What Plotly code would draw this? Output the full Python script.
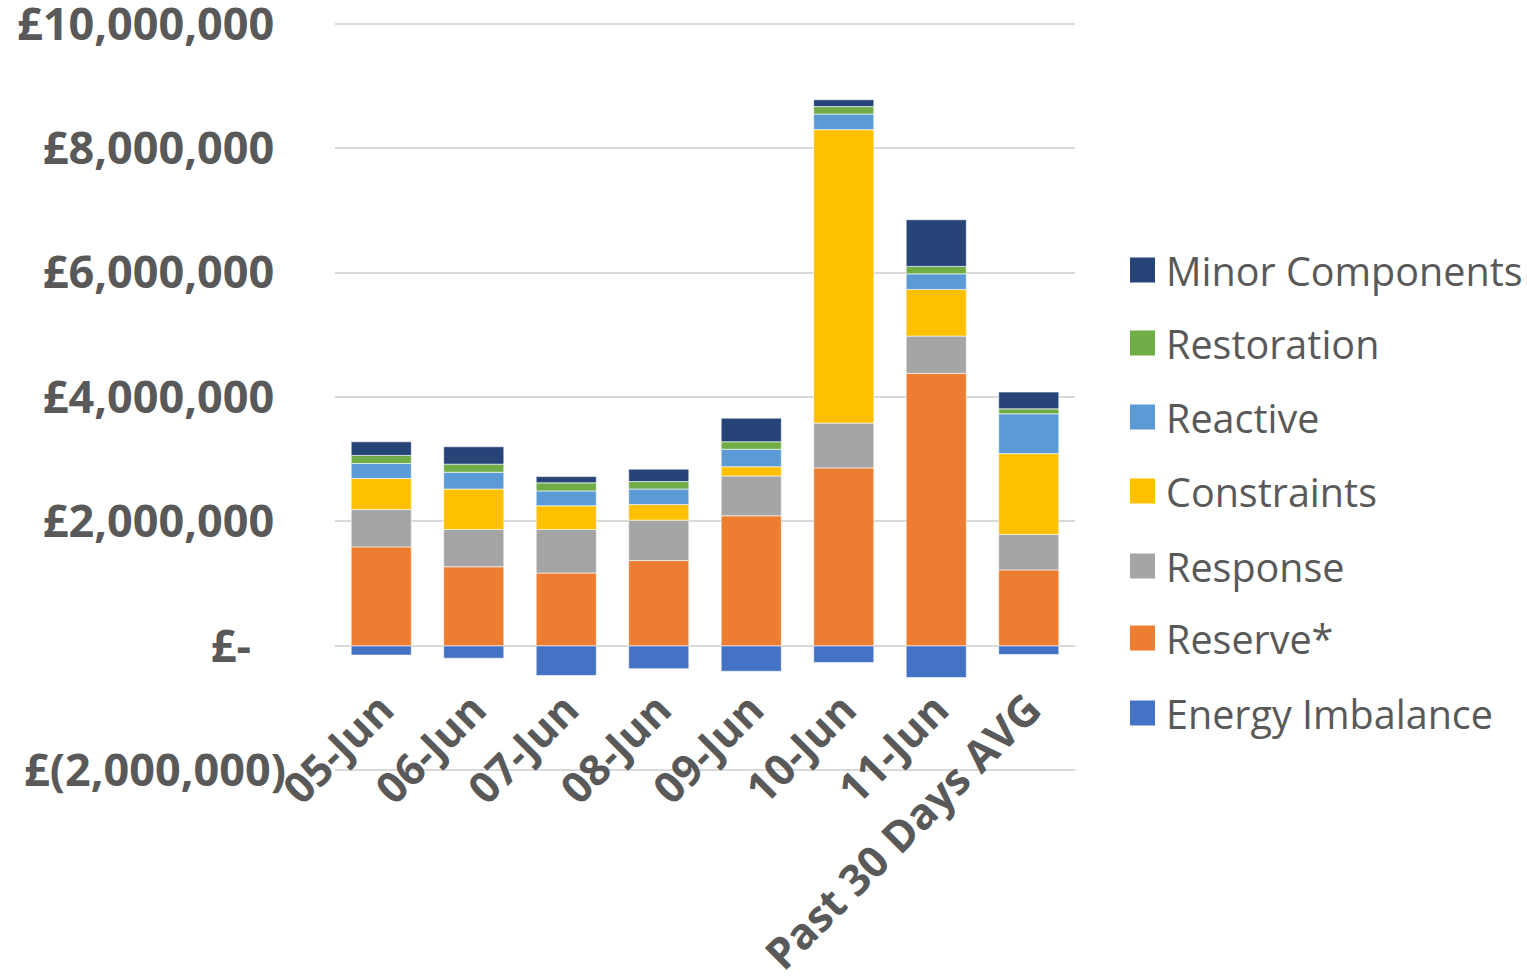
import plotly.graph_objects as go

categories = ["05-Jun", "06-Jun", "07-Jun", "08-Jun", "09-Jun", "10-Jun", "11-Jun", "Past 30 Days AVG"]

energy_imbalance = [-150000, -200000, -480000, -370000, -410000, -270000, -510000, -140000]
reserve = [1590000, 1270000, 1170000, 1370000, 2090000, 2860000, 4380000, 1220000]
response = [600000, 600000, 700000, 650000, 640000, 720000, 600000, 570000]
constraints = [500000, 650000, 380000, 250000, 150000, 4720000, 750000, 1300000]
reactive = [240000, 270000, 240000, 250000, 280000, 250000, 250000, 640000]
restoration = [130000, 130000, 130000, 120000, 120000, 120000, 120000, 80000]
minor_components = [220000, 280000, 100000, 200000, 380000, 110000, 750000, 270000]

tick_vals = [-2000000, 0, 2000000, 4000000, 6000000, 8000000, 10000000]
tick_text = ["£(2,000,000)", "£-\u00a0\u00a0\u00a0", "£2,000,000\u00a0", "£4,000,000\u00a0",
             "£6,000,000\u00a0", "£8,000,000\u00a0", "£10,000,000\u00a0"]

series = [
    ("Energy Imbalance", energy_imbalance, "#4472C4"),
    ("Reserve*", reserve, "#ED7D31"),
    ("Response", response, "#A5A5A5"),
    ("Constraints", constraints, "#FFC000"),
    ("Reactive", reactive, "#5B9BD5"),
    ("Restoration", restoration, "#70AD47"),
    ("Minor Components", minor_components, "#264478"),
]

FONT = "Open Sans"
GREY = "#595959"

fig = go.Figure()
for name, vals, color in series:
    fig.add_trace(go.Bar(
        x=categories, y=vals, name=name, showlegend=False,
        marker=dict(color=color, line=dict(color="rgba(255,255,255,0.6)", width=1)),
    ))

W, H = 1527, 980
L, R, T, B = 335, 452, 22, 208
pw, ph = W - L - R, H - T - B

def px_x(p):
    return (p - L) / pw

def px_y(p):
    return (H - B - p) / ph

legend_items = ["Minor Components", "Restoration", "Reactive", "Constraints", "Response", "Reserve*", "Energy Imbalance"]
color_map = {n: c for n, _, c in series}
legend_y = [270, 343, 417, 491, 566, 638, 713]
shapes = []
annotations = []
for name, yc in zip(legend_items, legend_y):
    shapes.append(dict(type="rect", xref="paper", yref="paper",
                       x0=px_x(1130), x1=px_x(1155), y0=px_y(yc + 12.5), y1=px_y(yc - 12.5),
                       fillcolor=color_map[name], line=dict(width=0)))
    annotations.append(dict(xref="paper", yref="paper", x=px_x(1164), y=px_y(yc + 1),
                            xanchor="left", yanchor="middle", text=name, showarrow=False,
                            font=dict(family=FONT, size=39.5, color=GREY)))

fig.update_layout(
    width=W, height=H,
    margin=dict(l=L, r=R, t=T, b=B, autoexpand=False),
    barmode="relative", bargap=0.35,
    plot_bgcolor="white", paper_bgcolor="white",
    shapes=shapes, annotations=annotations,
    xaxis=dict(anchor="free", position=0.13, showline=False, showgrid=False, automargin=False,
               tickangle=-45, ticks="", ticklabeloverflow="allow",
               tickfont=dict(family=FONT, size=43, color=GREY, weight="bold")),
    yaxis=dict(range=[-2030000, 10030000], tickvals=tick_vals, ticktext=tick_text,
               showgrid=True, gridcolor="#d9d9d9", gridwidth=2, zeroline=False, automargin=False,
               showline=False, ticks="outside", ticklen=39, tickcolor="rgba(0,0,0,0)",
               ticklabeloverflow="allow",
               tickfont=dict(family=FONT, size=45, color=GREY, weight="bold")),
)

fig.write_html("out.html")
